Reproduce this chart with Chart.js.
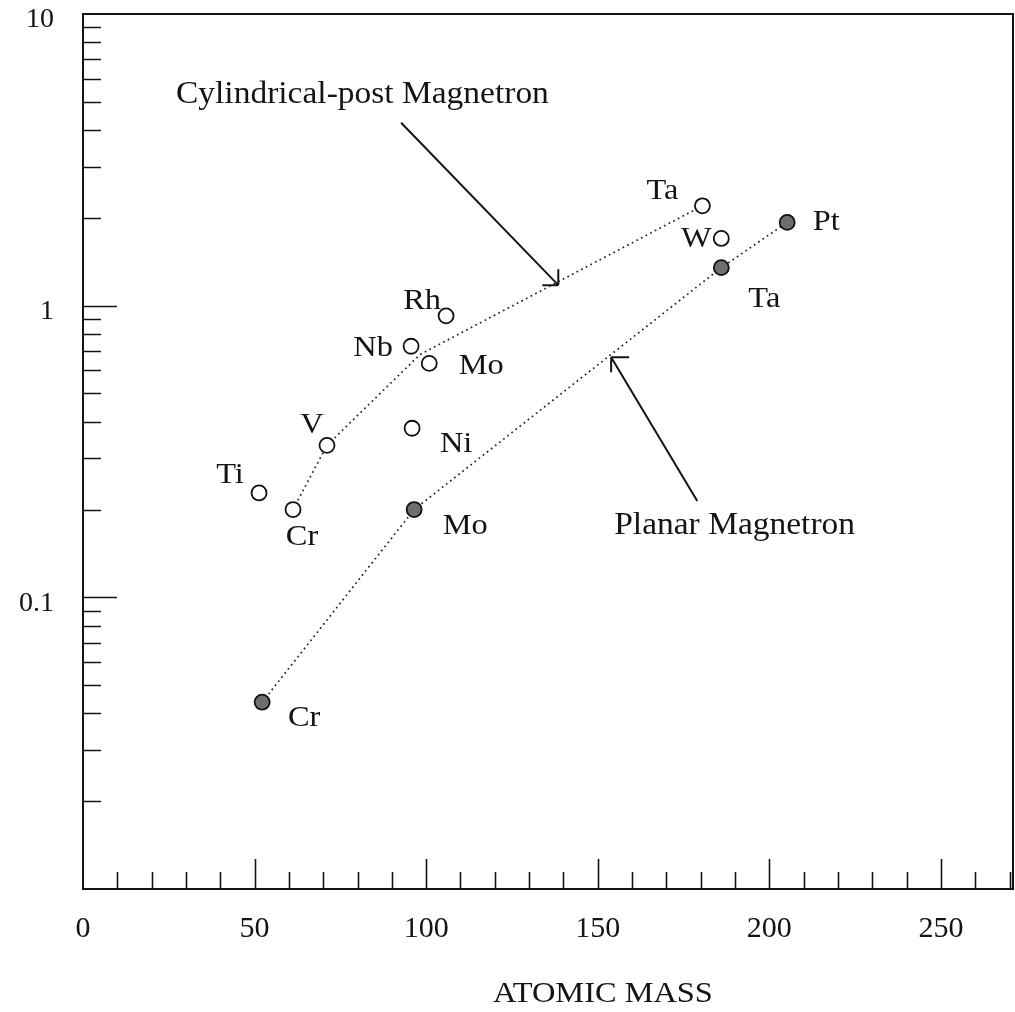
<!DOCTYPE html>
<html><head><meta charset="utf-8">
<script src="https://cdn.jsdelivr.net/npm/chart.js@4.4.1/dist/chart.umd.min.js"></script>
<style>html,body{margin:0;padding:0;background:#fff;}#wrap{width:1015px;height:1012px;position:relative;}canvas{display:block;}</style>
</head><body><div id="wrap"><canvas id="c" width="1015" height="1012"></canvas></div>
<script>
// ---- data ----
const cylNames = ['Ti', 'Cr', 'V', 'Nb', 'Mo', 'Rh', 'Ni', 'Ta', 'W'];
const cylMass  = [51.3, 61.2, 71.1, 95.6, 100.9, 105.8, 95.9, 180.5, 186.0];
const cylRate  = [0.228, 0.200, 0.332, 0.726, 0.634, 0.923, 0.380, 2.20, 1.70];

const planarNames = ['Cr', 'Mo', 'Ta', 'Pt'];
const planarMass  = [52.2, 96.5, 186.0, 205.2];
const planarRate  = [0.0437, 0.200, 1.35, 1.93];

const cylTrendMass = [61.2, 71.1, 98.2, 180.5];
const cylTrendRate = [0.200, 0.332, 0.680, 2.20];
const planarTrendMass = [52.2, 96.5, 186.0, 205.2];
const planarTrendRate = [0.0437, 0.200, 1.35, 1.93];

const xTickValues = [0, 50, 100, 150, 200, 250];
const xTickLabels = ['0', '50', '100', '150', '200', '250'];
const yTickValues = [0.1, 1, 10];
const yTickLabels = ['0.1', '1', '10'];
const xTitle = 'ATOMIC MASS';
const cylCaption = 'Cylindrical-post Magnetron';
const planarCaption = 'Planar Magnetron';

// ---- layout / style config (not data) ----
const FONT = "'Liberation Serif', 'Times New Roman', serif";
const INK = '#141414';
const SX = 1.08; // horizontal stretch of annotation text
const cylLabelOffsets = [[-29,-10],[9,35],[-15,-12],[-38,10],[52,11],[-24,-7],[44,24],[-40,-7],[-25,9]];
const planarLabelOffsets = [[42,24],[51,24],[43,39],[39,8]];
const captions = [
  {text: cylCaption, x: 27.1, y: 4.95, size: 31, align: 'left'},
  {text: planarCaption, x: 154.8, y: 0.1655, size: 31, align: 'left'}
];
const titlePos = {x: 151.5, yPx: 1002, size: 30};
const arrows = [
  {from: [92.7, 4.24], to: [138.5, 1.176], head: [[-16,0],[0,-16]]},
  {from: [179.0, 0.214], to: [153.9, 0.665], head: [[18,0],[0,15]]}
];

const toPts = (xs, ys) => xs.map((x, i) => ({x: x, y: ys[i]}));

function drawText(ctx, text, x, y, align) {
  ctx.save();
  ctx.translate(x, y);
  ctx.scale(SX, 1);
  ctx.textAlign = align;
  ctx.fillText(text, 0, 0);
  ctx.restore();
}

const decor = {
  id: 'decor',
  afterDraw(chart) {
    const ctx = chart.ctx, a = chart.chartArea, xs = chart.scales.x, ys = chart.scales.y;
    ctx.save();
    ctx.strokeStyle = INK;
    ctx.lineCap = 'butt';
    ctx.lineWidth = 2;
    ctx.strokeRect(a.left, a.top, a.right - a.left, a.bottom - a.top);
    ctx.lineWidth = 1.6;
    ctx.beginPath();
    for (let v = 10; v <= xs.max; v += 10) {
      const px = Math.round(xs.getPixelForValue(v)) + 0.5;
      const len = (v % 50 === 0) ? 30 : 17;
      ctx.moveTo(px, a.bottom); ctx.lineTo(px, a.bottom - len);
    }
    for (let d = ys.min; d < ys.max * 0.999; d *= 10) {
      for (let k = 1; k <= 9; k++) {
        const v = d * k;
        if (v <= ys.min * 1.001) continue;
        const py = Math.round(ys.getPixelForValue(v)) + 0.5;
        const len = (k === 1) ? 34 : 18;
        ctx.moveTo(a.left, py); ctx.lineTo(a.left + len, py);
      }
    }
    ctx.stroke();
    ctx.lineWidth = 2;
    arrows.forEach(ar => {
      const x0 = xs.getPixelForValue(ar.from[0]), y0 = ys.getPixelForValue(ar.from[1]);
      const x1 = xs.getPixelForValue(ar.to[0]), y1 = ys.getPixelForValue(ar.to[1]);
      ctx.beginPath();
      ctx.moveTo(x0, y0); ctx.lineTo(x1, y1);
      ar.head.forEach(h => { ctx.moveTo(x1, y1); ctx.lineTo(x1 + h[0], y1 + h[1]); });
      ctx.stroke();
    });
    ctx.fillStyle = INK;
    ctx.textBaseline = 'alphabetic';
    captions.forEach(c => {
      ctx.font = c.size + 'px ' + FONT;
      drawText(ctx, c.text, xs.getPixelForValue(c.x), ys.getPixelForValue(c.y), c.align);
    });
    ctx.font = titlePos.size + 'px ' + FONT;
    drawText(ctx, xTitle, xs.getPixelForValue(titlePos.x), titlePos.yPx, 'center');
    ctx.font = '30px ' + FONT;
    cylNames.forEach((n, i) => {
      const o = cylLabelOffsets[i];
      drawText(ctx, n, xs.getPixelForValue(cylMass[i]) + o[0], ys.getPixelForValue(cylRate[i]) + o[1], 'center');
    });
    planarNames.forEach((n, i) => {
      const o = planarLabelOffsets[i];
      drawText(ctx, n, xs.getPixelForValue(planarMass[i]) + o[0], ys.getPixelForValue(planarRate[i]) + o[1], 'center');
    });
    ctx.restore();
  }
};

new Chart(document.getElementById('c'), {
  type: 'scatter',
  data: {
    datasets: [
      {label: 'cyl-trend', data: toPts(cylTrendMass, cylTrendRate), showLine: true, pointRadius: 0,
       borderColor: '#222', borderWidth: 1.7, borderDash: [1.7, 3.5], order: 3},
      {label: 'planar-trend', data: toPts(planarTrendMass, planarTrendRate), showLine: true, pointRadius: 0,
       borderColor: '#222', borderWidth: 1.7, borderDash: [1.7, 3.5], order: 3},
      {label: 'Cylindrical-post Magnetron', data: toPts(cylMass, cylRate), showLine: false,
       pointRadius: 7.5, pointBackgroundColor: '#ffffff', pointBorderColor: '#111', pointBorderWidth: 1.8, order: 1},
      {label: 'Planar Magnetron', data: toPts(planarMass, planarRate), showLine: false,
       pointRadius: 7.5, pointBackgroundColor: '#6e6e6e', pointBorderColor: '#111', pointBorderWidth: 1.8, order: 1}
    ]
  },
  options: {
    responsive: false,
    animation: false,
    devicePixelRatio: 1,
    layout: {autoPadding: false, padding: {top: 14, right: 2, left: 0, bottom: 0}},
    plugins: {legend: {display: false}, tooltip: {enabled: false}},
    scales: {
      x: {
        type: 'linear', min: 0, max: 271,
        afterBuildTicks: s => { s.ticks = xTickValues.map(v => ({value: v})); },
        afterFit: s => { s.height = 123; s.paddingLeft = 0; s.paddingRight = 0; },
        grid: {display: false, drawTicks: false},
        border: {display: false},
        ticks: {font: {family: FONT, size: 30}, color: INK, padding: 22, maxRotation: 0, autoSkip: false,
                callback: (v, i) => xTickLabels[i]},
        title: {display: false}
      },
      y: {
        type: 'logarithmic', min: 0.01, max: 10,
        afterBuildTicks: s => { s.ticks = yTickValues.map(v => ({value: v})); },
        afterFit: s => { s.width = 83; s.paddingTop = 0; s.paddingBottom = 0; },
        grid: {display: false, drawTicks: false},
        border: {display: false},
        ticks: {font: {family: FONT, size: 28}, color: INK, padding: 29, autoSkip: false, labelOffset: 6,
                callback: (v, i) => yTickLabels[i]}
      }
    }
  },
  plugins: [decor]
});
</script>
</body></html>
